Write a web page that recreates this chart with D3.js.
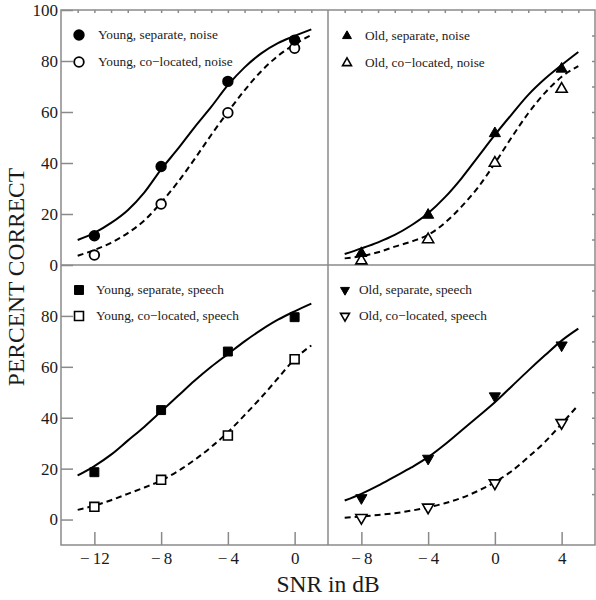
<!DOCTYPE html>
<html>
<head>
<meta charset="utf-8">
<script src="https://cdn.jsdelivr.net/npm/d3@7"></script>
<style>
  html, body { margin: 0; padding: 0; background: #fff; }
</style>
</head>
<body>
<svg id="chart" width="596" height="600" font-family="'Liberation Serif', 'Times New Roman', Times, serif"></svg>
<script>
// ---------- data ----------
const snrLeft = [-12, -8, -4, 0];
const snrRight = [-8, -4, 0, 4];

const youngSepNoise  = [11.5, 38.6, 72.0, 88.2];
const youngColNoise  = [3.9, 23.9, 59.7, 85.0];
const oldSepNoise    = [4.6, 19.6, 51.6, 76.9];
const oldColNoise    = [1.7, 10.0, 40.0, 69.0];
const youngSepSpeech = [18.6, 43.0, 66.0, 79.5];
const youngColSpeech = [5.0, 15.6, 33.0, 63.0];
const oldSepSpeech   = [8.5, 24.0, 48.5, 68.5];
const oldColSpeech   = [0.7, 4.8, 14.3, 38.0];

// fitted psychometric curves
const fitXLeft  = [-13, -12, -11, -10, -9, -8, -7, -6, -5, -4, -3, -2, -1, 0, 1];
const fitXRight = [-9, -8, -7, -6, -5, -4, -3, -2, -1, 0, 1, 2, 3, 4, 5];

const fitYoungSepNoise  = [9.8, 12.6, 16.5, 21.5, 28.5, 37.5, 45.5, 54.0, 62.0, 70.5, 77.5, 83.0, 87.0, 89.8, 92.4];
const fitYoungColNoise  = [3.6, 5.9, 8.7, 12.5, 17.5, 24.5, 32.5, 41.5, 51.0, 60.0, 68.5, 76.0, 82.0, 86.5, 90.2];
const fitOldSepNoise    = [4.3, 6.5, 8.9, 11.8, 15.6, 20.3, 26.5, 34.0, 42.5, 51.0, 59.0, 66.7, 73.0, 78.4, 83.5];
const fitOldColNoise    = [2.6, 3.5, 5.0, 7.2, 9.2, 11.8, 16.5, 22.9, 30.5, 39.9, 50.0, 59.5, 67.5, 73.8, 78.0];
const fitYoungSepSpeech = [17.3, 21.0, 25.5, 31.0, 36.5, 42.5, 48.5, 54.5, 60.0, 65.0, 70.0, 74.5, 78.5, 81.8, 84.8];
const fitYoungColSpeech = [3.8, 5.5, 7.6, 10.1, 12.6, 15.3, 19.0, 23.4, 28.5, 34.3, 41.0, 48.0, 55.5, 63.0, 68.4];
const fitOldSepSpeech   = [7.5, 10.1, 13.3, 16.9, 20.5, 24.5, 29.5, 35.0, 40.5, 46.1, 52.3, 58.5, 64.5, 70.3, 75.0];
const fitOldColSpeech   = [0.7, 1.2, 1.8, 2.5, 3.5, 4.8, 6.4, 8.5, 11.3, 14.7, 19.0, 24.5, 30.5, 37.6, 45.0];

const yTicksTop = [0, 20, 40, 60, 80, 100];
const yTicksBottom = [0, 20, 40, 60, 80];
const xTicksLeft = [-12, -8, -4, 0];
const xTicksRight = [-8, -4, 0, 4];
const minorXLeft = [-13, -12, -11, -10, -9, -8, -7, -6, -5, -4, -3, -2, -1, 0, 1];
const minorXRight = [-9, -8, -7, -6, -5, -4, -3, -2, -1, 0, 1, 2, 3, 4, 5];
const minorY = [10, 20, 30, 40, 50, 60, 70, 80, 90];

const legendLabels = [
  ["Young, separate, noise", "Young, co\u2212located, noise"],
  ["Old, separate, noise", "Old, co\u2212located, noise"],
  ["Young, separate, speech", "Young, co\u2212located, speech"],
  ["Old, separate, speech", "Old, co\u2212located, speech"]
];
const yLabel = "PERCENT CORRECT";
const xLabel = "SNR in dB";

// ---------- layout ----------
const FONT = "'Liberation Serif', 'Times New Roman', Times, serif";
const L = 61, M = 328, R = 595, T = 10, H = 265, B = 545;
const frameColor = "#8a8a8a";
const textColor = "#1a1a1a";
const tickFont = 17;

const xLeft  = d3.scaleLinear().domain([-14, 2]).range([L, M]);
const xRight = d3.scaleLinear().domain([-10, 6]).range([M, R]);
const yTop    = d3.scaleLinear().domain([0, 100]).range([H, T]);
const yBottom = d3.scaleLinear().domain([-10, 100]).range([B, H]);

const xFmt = d => d < 0 ? "\u2212\u2009" + Math.abs(d) : String(d);

const svg = d3.select("#chart");

const panels = [
  { x: xLeft,  y: yTop,    sx: snrLeft,  fx: fitXLeft,  sep: youngSepNoise,  col: youngColNoise,  fSep: fitYoungSepNoise,  fCol: fitYoungColNoise,  sym: "circle",  leg: legendLabels[0], lx: 79,  ly: [35, 62],  tx: 98 },
  { x: xRight, y: yTop,    sx: snrRight, fx: fitXRight, sep: oldSepNoise,    col: oldColNoise,    fSep: fitOldSepNoise,    fCol: fitOldColNoise,    sym: "tri",     leg: legendLabels[1], lx: 347, ly: [36, 63],  tx: 365 },
  { x: xLeft,  y: yBottom, sx: snrLeft,  fx: fitXLeft,  sep: youngSepSpeech, col: youngColSpeech, fSep: fitYoungSepSpeech, fCol: fitYoungColSpeech, sym: "square",  leg: legendLabels[2], lx: 79,  ly: [290, 316], tx: 96 },
  { x: xRight, y: yBottom, sx: snrRight, fx: fitXRight, sep: oldSepSpeech,   col: oldColSpeech,   fSep: fitOldSepSpeech,   fCol: fitOldColSpeech,   sym: "itri",    leg: legendLabels[3], lx: 345, ly: [290, 316], tx: 359 }
];

// ---------- axes ----------
function styleAxis(g) {
  g.attr("font-family", FONT).attr("font-size", tickFont);
  g.select(".domain").remove();
  g.selectAll(".tick line").attr("stroke", frameColor).attr("stroke-width", 1.5);
  g.selectAll(".tick text").attr("font-size", tickFont).attr("font-family", FONT).attr("fill", textColor);
}

// left axes
svg.append("g").attr("transform", `translate(${L},0)`)
  .call(d3.axisLeft(yTop).tickValues(yTicksTop).tickSizeInner(-12).tickSizeOuter(0).tickPadding(3))
  .call(styleAxis);
svg.append("g").attr("transform", `translate(${L},0)`)
  .call(d3.axisLeft(yBottom).tickValues(yTicksBottom).tickSizeInner(-12).tickSizeOuter(0).tickPadding(3))
  .call(styleAxis);

// bottom axes
svg.append("g").attr("transform", `translate(0,${B})`)
  .call(d3.axisBottom(xLeft).tickValues(xTicksLeft).tickFormat(xFmt).tickSizeInner(-13).tickSizeOuter(0).tickPadding(7))
  .call(styleAxis);
svg.append("g").attr("transform", `translate(0,${B})`)
  .call(d3.axisBottom(xRight).tickValues(xTicksRight).tickFormat(xFmt).tickSizeInner(-13).tickSizeOuter(0).tickPadding(7))
  .call(styleAxis);

// minor ticks top and right
svg.append("g").attr("transform", `translate(0,${T})`)
  .call(d3.axisTop(xLeft).tickValues(minorXLeft).tickSizeInner(-3).tickSizeOuter(0).tickFormat(""))
  .call(styleAxis);
svg.append("g").attr("transform", `translate(0,${T})`)
  .call(d3.axisTop(xRight).tickValues(minorXRight).tickSizeInner(-3).tickSizeOuter(0).tickFormat(""))
  .call(styleAxis);
svg.append("g").attr("transform", `translate(${R},0)`)
  .call(d3.axisRight(yTop).tickValues(minorY).tickSizeInner(-3).tickSizeOuter(0).tickFormat(""))
  .call(styleAxis);
svg.append("g").attr("transform", `translate(${R},0)`)
  .call(d3.axisRight(yBottom).tickValues(minorY).tickSizeInner(-3).tickSizeOuter(0).tickFormat(""))
  .call(styleAxis);

// frame
svg.append("rect").attr("x", L).attr("y", T).attr("width", R - L).attr("height", B - T)
  .attr("fill", "none").attr("stroke", frameColor).attr("stroke-width", 1.5);
svg.append("line").attr("x1", M).attr("x2", M).attr("y1", T).attr("y2", B)
  .attr("stroke", frameColor).attr("stroke-width", 1.5);
svg.append("line").attr("x1", L).attr("x2", R).attr("y1", H).attr("y2", H)
  .attr("stroke", frameColor).attr("stroke-width", 1.5);

// ---------- markers ----------
function marker(g, type, filled, x, y, scale) {
  const s = scale || 1;
  let path;
  if (type === "circle") {
    g.append("circle").attr("cx", x).attr("cy", y).attr("r", 4.8 * s)
      .attr("fill", filled ? "#000" : "#fff").attr("stroke", "#000").attr("stroke-width", 1.8);
    return;
  }
  if (type === "square") path = d3.symbol(d3.symbolSquare, 80 * s * s)();
  else path = d3.symbol(d3.symbolTriangle, 54 * s * s)();
  g.append("path").attr("d", path)
    .attr("transform", `translate(${x},${y})` + (type === "itri" ? " rotate(180)" : ""))
    .attr("fill", filled ? "#000" : "#fff").attr("stroke", "#000").attr("stroke-width", filled ? 1 : 1.6);
}

panels.forEach(p => {
  const g = svg.append("g");
  const line = d3.line().x(d => p.x(d[0])).y(d => p.y(d[1])).curve(d3.curveMonotoneX);
  g.append("path").attr("d", line(p.fx.map((v, i) => [v, p.fCol[i]])))
    .attr("fill", "none").attr("stroke", "#000").attr("stroke-width", 2).attr("stroke-dasharray", "6,4");
  g.append("path").attr("d", line(p.fx.map((v, i) => [v, p.fSep[i]])))
    .attr("fill", "none").attr("stroke", "#000").attr("stroke-width", 2);
  p.sx.forEach((v, i) => marker(g, p.sym, false, p.x(v), p.y(p.col[i])));
  p.sx.forEach((v, i) => marker(g, p.sym, true, p.x(v), p.y(p.sep[i])));

  // legend
  const legScale = (p.sym === "tri" || p.sym === "itri") ? 0.8 : 1;
  [0, 1].forEach(k => {
    marker(g, p.sym, k === 0, p.lx, p.ly[k], legScale);
    g.append("text").attr("x", p.tx).attr("y", p.ly[k] + 4)
      .attr("font-family", FONT).attr("fill", textColor)
      .attr("font-size", 13.3).text(p.leg[k]);
  });
});

// ---------- axis titles ----------
svg.append("text").attr("transform", "translate(24,277) rotate(-90)")
  .attr("font-family", FONT).attr("fill", textColor)
  .attr("text-anchor", "middle").attr("font-size", 23.5).text(yLabel);
svg.append("text").attr("x", M).attr("y", 592)
  .attr("font-family", FONT).attr("fill", textColor)
  .attr("text-anchor", "middle").attr("font-size", 23.5).text(xLabel);
</script>
</body>
</html>
